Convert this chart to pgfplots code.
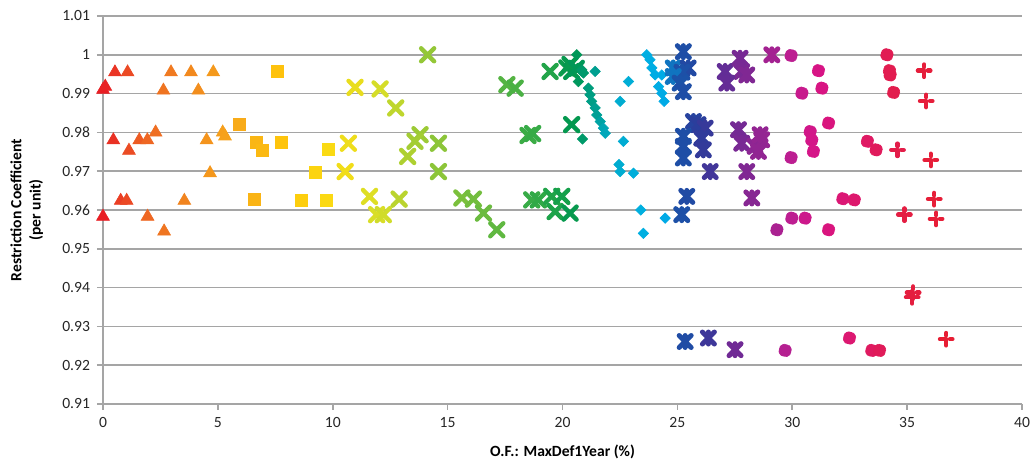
\documentclass[border=0pt]{standalone}
\usepackage{fontspec}
\setmainfont{Carlito}
\usepackage{pgfplots}
\pgfplotsset{compat=1.18}
\pgfdeclareplotmark{xstar}{%
  \pgfpathmoveto{\pgfqpoint{-\pgfplotmarksize}{-\pgfplotmarksize}}%
  \pgfpathlineto{\pgfqpoint{\pgfplotmarksize}{\pgfplotmarksize}}%
  \pgfpathmoveto{\pgfqpoint{-\pgfplotmarksize}{\pgfplotmarksize}}%
  \pgfpathlineto{\pgfqpoint{\pgfplotmarksize}{-\pgfplotmarksize}}%
  \pgfpathmoveto{\pgfqpoint{0pt}{-\pgfplotmarksize}}%
  \pgfpathlineto{\pgfqpoint{0pt}{\pgfplotmarksize}}%
  \pgfusepathqstroke}
\pgfdeclareplotmark{thickplus}{%
  \pgfpathmoveto{\pgfqpoint{-\pgfplotmarksize}{0pt}}%
  \pgfpathlineto{\pgfqpoint{\pgfplotmarksize}{0pt}}%
  \pgfpathmoveto{\pgfqpoint{0pt}{-\pgfplotmarksize}}%
  \pgfpathlineto{\pgfqpoint{0pt}{\pgfplotmarksize}}%
  \pgfusepathqstroke}
\pgfdeclareplotmark{sdiamond}{%
  \pgfpathmoveto{\pgfqpoint{0pt}{\pgfplotmarksize}}%
  \pgfpathlineto{\pgfqpoint{\pgfplotmarksize}{0pt}}%
  \pgfpathlineto{\pgfqpoint{0pt}{-\pgfplotmarksize}}%
  \pgfpathlineto{\pgfqpoint{-\pgfplotmarksize}{0pt}}%
  \pgfpathclose
  \pgfusepathqfillstroke}
\definecolor{gridgray}{RGB}{165,165,165}
\begin{document}
\begin{tikzpicture}
\path[use as bounding box] (-51.5pt,-32.5pt) rectangle (465pt,202pt);
\begin{axis}[
  at={(0,0)}, anchor=south west,
  scale only axis, width=459.5pt, height=194pt,
  xmin=0, xmax=40, ymin=0.91, ymax=1.01,
  xtick={0,5,...,40},
  ytick={0.91,0.92,0.93,0.94,0.95,0.96,0.97,0.98,0.99,1,1.01},
  axis x line*=bottom, axis y line*=left,
  axis line style={gridgray, line width=0.8pt, -},
  ymajorgrids, grid style={gridgray, line width=0.75pt},
  tick align=outside, major tick length=3pt,
  major tick style={gridgray, line width=0.8pt},
  /pgf/number format/assume math mode=true,
  yticklabel style={/pgf/number format/fixed, /pgf/number format/precision=2},
  ticklabel style={font=\fontsize{7.8}{9}\selectfont, text=black!85},
  xlabel={O.F.: MaxDef1Year (\%)},
  ylabel={Restriction Coefficient\\(per unit)},
  xlabel style={font=\fontsize{7.8}{9}\selectfont\bfseries, at={(axis description cs:0.5,-0.124)}, anchor=center},
  ylabel style={font=\fontsize{7.8}{9.6}\selectfont\bfseries, align=center, at={(axis description cs:-0.083,0.5)}, anchor=center},
  clip=false,
  colormap={rb}{
    rgb255(0pt)=(232,30,36)
    rgb255(2pt)=(235,72,36)
    rgb255(4pt)=(238,105,35)
    rgb255(8pt)=(242,140,30)
    rgb255(12pt)=(248,172,25)
    rgb255(16pt)=(255,200,10)
    rgb255(20pt)=(250,220,20)
    rgb255(24pt)=(215,222,40)
    rgb255(28pt)=(150,200,55)
    rgb255(34pt)=(100,185,65)
    rgb255(40pt)=(20,160,75)
    rgb255(41pt)=(0,150,80)
    rgb255(43pt)=(0,160,150)
    rgb255(44pt)=(0,170,200)
    rgb255(47pt)=(0,175,225)
    rgb255(49pt)=(0,170,230)
    rgb255(50pt)=(25,85,170)
    rgb255(52pt)=(45,60,155)
    rgb255(54pt)=(95,45,150)
    rgb255(58pt)=(160,35,145)
    rgb255(60pt)=(190,30,145)
    rgb255(62pt)=(215,20,135)
    rgb255(66pt)=(222,25,105)
    rgb255(70pt)=(228,30,65)
    rgb255(74pt)=(232,30,50)
  },
  point meta min=0, point meta max=37,
  every axis plot/.append style={only marks, scatter, point meta=x,
    scatter/use mapped color={draw=mapped color, fill=mapped color}},
]
% triangles
\addplot+[mark=triangle*, mark size=3.7pt, mark options={line width=0.3pt}] coordinates {
(0,0.991)(0.1,0.9918)(0.52,0.9955)(1.07,0.9955)(2.96,0.9955)(3.83,0.9955)(4.8,0.9955)
(2.63,0.9908)(4.15,0.9908)(0.45,0.978)(1.13,0.9753)(1.58,0.978)(1.93,0.978)(2.29,0.980)
(4.51,0.978)(5.21,0.980)(5.31,0.979)(4.66,0.9695)(0.77,0.9624)(1.03,0.9624)(3.54,0.9624)
(0,0.9583)(1.94,0.9583)(2.66,0.9545)};
% squares
\addplot+[mark=square*, mark size=3pt, mark options={line width=0.3pt}] coordinates {
(7.6,0.9957)(5.93,0.9822)(6.69,0.9774)(6.95,0.9755)(7.74,0.9774)(6.59,0.9628)
(9.81,0.9757)(9.23,0.9697)(8.65,0.9626)(9.74,0.9626)};
% crosses
\addplot+[mark=x, mark size=4.6pt, mark options={line width=2.2pt, line cap=round}] coordinates {
(14.13,1.0)(10.97,0.9916)(12.06,0.9912)(12.74,0.9863)(10.68,0.9772)(13.8,0.9794)(13.58,0.9777)
(14.6,0.9772)(13.26,0.9738)(10.54,0.9699)(14.6,0.9699)(11.6,0.9635)(12.89,0.9628)(11.91,0.9588)
(12.2,0.9588)(15.62,0.9631)(16.12,0.9628)(16.56,0.9592)(17.14,0.9549)(17.58,0.9923)(17.94,0.9914)
(18.5,0.9792)(18.7,0.9797)(19.46,0.9957)(20.19,0.9966)(20.4,0.9957)(20.33,0.9975)(20.6,0.9965)
(20.4,0.982)(18.66,0.9626)(18.95,0.9626)(19.53,0.9635)(19.97,0.9635)(19.68,0.9596)(20.33,0.9592)};
% diamonds
\addplot+[mark=sdiamond, mark size=2.6pt, mark options={line width=0.3pt}] coordinates {
(20.62,1.0)(20.84,0.9961)(20.91,0.9953)(20.69,0.9931)(21.42,0.9957)(21.13,0.9914)(21.2,0.9897)
(21.27,0.988)(21.42,0.9863)(21.49,0.9845)(21.64,0.9828)(21.78,0.9811)(21.86,0.9798)(20.87,0.9783)
(22.87,0.9931)(22.51,0.988)(22.65,0.9777)(22.46,0.9717)(22.51,0.9699)(23.09,0.9695)(23.41,0.960)
(23.52,0.954)(23.67,1.0)(23.81,0.9987)(23.89,0.9966)(24.03,0.9948)(24.32,0.9948)(24.18,0.9918)
(24.32,0.9901)(24.42,0.988)(24.47,0.9579)};
% stars
\addplot+[mark=xstar, mark size=3pt, mark options={line width=2.5pt, line cap=round}] coordinates {
(25.26,1.0008)(24.82,0.9966)(25.47,0.9966)(25.2,0.9955)(24.82,0.9944)(25.12,0.9927)(25.26,0.9905)
(25.70,0.9828)(25.9,0.982)(26.21,0.9811)(25.26,0.979)(26.06,0.9785)(25.26,0.9764)(26.13,0.9755)
(25.26,0.9734)(26.43,0.9699)(25.41,0.9635)(25.19,0.9588)(25.34,0.9261)(26.35,0.927)
(27.08,0.9957)(27.73,0.9991)(27.80,0.9957)(27.15,0.9927)(28.02,0.9948)(29.11,1.0)
(27.66,0.9807)(27.80,0.9772)(28.67,0.9781)(28.38,0.9764)(28.6,0.9794)(28.53,0.9751)
(28.02,0.9699)(28.24,0.9631)(27.51,0.924)};
% circles
\addplot+[mark=*, mark size=3.15pt, mark options={line width=0.3pt}] coordinates {
(29.95,0.9998)(31.14,0.9959)(30.42,0.9901)(31.29,0.9914)(30.78,0.9802)(30.85,0.978)(30.92,0.9751)
(29.95,0.9735)(31.58,0.9824)(29.33,0.9549)(29.98,0.9579)(30.56,0.9579)(31.58,0.9549)
(34.12,1.0)(34.23,0.9959)(34.26,0.9948)(34.41,0.9903)(33.27,0.9777)(33.65,0.9755)
(32.2,0.9629)(32.7,0.9626)(29.69,0.9238)(32.49,0.927)(33.46,0.9238)(33.8,0.9238)};
% plus
\addplot+[mark=thickplus, mark size=3.1pt, mark options={line width=2.2pt, line cap=round}] coordinates {
(35.74,0.9959)(35.83,0.9881)(34.58,0.9755)(36.03,0.9729)(36.18,0.9628)(36.26,0.9577)
(34.88,0.9588)(35.26,0.9387)(35.22,0.9375)(36.7,0.9267)};
\end{axis}
\end{tikzpicture}
\end{document}
